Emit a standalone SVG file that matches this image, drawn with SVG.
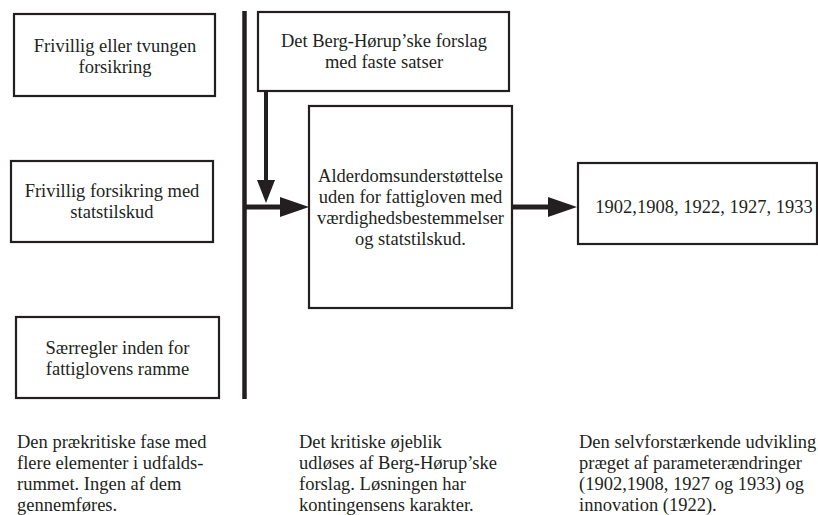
<svg xmlns="http://www.w3.org/2000/svg" width="818" height="515" viewBox="0 0 818 515" font-family="Liberation Serif, Times New Roman, DejaVu Serif, serif">
  <style>
    .box { fill: #ffffff; stroke: #231f20; stroke-width: 2.2; }
    text { font-family: "Liberation Serif", "Times New Roman", "DejaVu Serif", serif; font-size: 18.5px; fill: #231f20; }
    .c { text-anchor: middle; }
    .wire { stroke: #231f20; fill: none; }
    .head { fill: #231f20; }
  </style>
  <rect width="818" height="515" fill="#ffffff"/>

  <!-- connectors -->
  <g id="connectors">
    <line class="wire" x1="244.5" y1="11" x2="244.5" y2="399" stroke-width="4.5"/>
    <line class="wire" x1="266" y1="91" x2="266" y2="182" stroke-width="4"/>
    <polygon class="head" points="257,180 275,180 266,203"/>
    <line class="wire" x1="246" y1="207" x2="282" y2="207" stroke-width="5"/>
    <polygon class="head" points="280,197 280,217 309,207"/>
    <line class="wire" x1="512" y1="207" x2="550" y2="207" stroke-width="5"/>
    <polygon class="head" points="548,197 548,217 577,207"/>
  </g>

  <g id="node-tvungen">
    <rect class="box" x="14" y="14" width="201" height="82"/>
    <text class="c" x="115" y="52">Frivillig eller tvungen</text>
    <text class="c" x="115" y="73">forsikring</text>
  </g>

  <g id="node-statstilskud">
    <rect class="box" x="11" y="161" width="202" height="81"/>
    <text class="c" x="112" y="197">Frivillig forsikring med</text>
    <text class="c" x="112" y="218">statstilskud</text>
  </g>

  <g id="node-saerregler">
    <rect class="box" x="16" y="317" width="203" height="81"/>
    <text class="c" x="117.5" y="354">Særregler inden for</text>
    <text class="c" x="117.5" y="375">fattiglovens ramme</text>
  </g>

  <g id="node-berg-horup">
    <rect class="box" x="258" y="12" width="251" height="79"/>
    <text class="c" x="384" y="47">Det Berg-Hørup’ske forslag</text>
    <text class="c" x="384" y="68">med faste satser</text>
  </g>

  <g id="node-alderdom">
    <rect class="box" x="309" y="106" width="203" height="202"/>
    <text class="c" x="410.5" y="182">Alderdomsunderstøttelse</text>
    <text class="c" x="410.5" y="203">uden for fattigloven med</text>
    <text class="c" x="410.5" y="224">værdighedsbestemmelser</text>
    <text class="c" x="410.5" y="245">og statstilskud.</text>
  </g>

  <g id="node-years">
    <rect class="box" x="578" y="163" width="239" height="81"/>
    <text class="c" x="704" y="213">1902,1908, 1922, 1927, 1933</text>
  </g>

  <!-- phase captions -->
  <g id="caption-prekritisk">
    <text x="17" y="448">Den prækritiske fase med</text>
    <text x="17" y="469">flere elementer i udfalds-</text>
    <text x="17" y="490">rummet. Ingen af dem</text>
    <text x="17" y="511">gennemføres.</text>
  </g>
  <g id="caption-kritisk">
    <text x="299" y="448">Det kritiske øjeblik</text>
    <text x="299" y="469">udløses af Berg-Hørup’ske</text>
    <text x="299" y="490">forslag. Løsningen har</text>
    <text x="299" y="511">kontingensens karakter.</text>
  </g>
  <g id="caption-selvforstaerkende">
    <text x="579" y="448">Den selvforstærkende udvikling</text>
    <text x="579" y="469">præget af parameterændringer</text>
    <text x="579" y="490">(1902,1908, 1927 og 1933) og</text>
    <text x="579" y="511">innovation (1922).</text>
  </g>
</svg>
